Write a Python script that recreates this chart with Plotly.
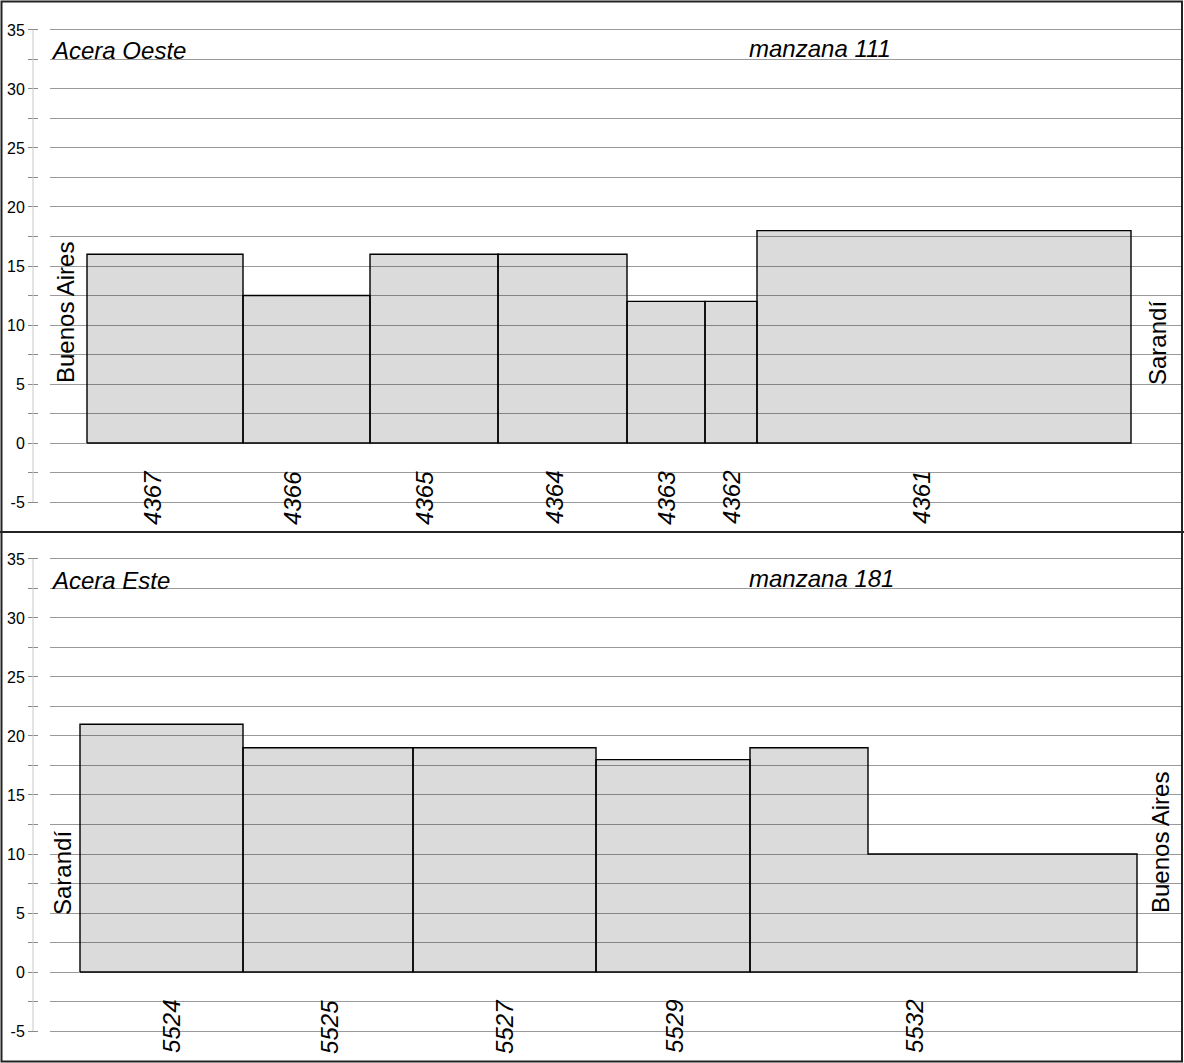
import plotly.graph_objects as go

# ---------------- data ----------------
top_lots = ["4367", "4366", "4365", "4364", "4363", "4362", "4361"]
top_widths = [[15.6], [12.7], [12.8], [12.9], [7.8], [5.2], [37.4]]
top_heights = [[16], [12.5], [16], [16], [12], [12], [18]]
top_start = 3.7
top_label_x = [10.3, 24.3, 37.5, 50.5, 61.7, 68.2, 87.2]

bot_lots = ["5524", "5525", "5527", "5529", "5532"]
bot_widths = [[16.3], [17.0], [18.3], [15.4], [11.8, 26.9]]
bot_heights = [[21], [19], [19], [18], [19, 10]]
bot_start = 3.0
bot_label_x = [12.2, 28.0, 45.5, 62.5, 86.5]

label_y = -4.65
y_tickvals = [-5, -2.5, 0, 2.5, 5, 7.5, 10, 12.5, 15, 17.5, 20, 22.5, 25, 27.5, 30, 32.5, 35]
y_ticktext = ["-5", "", "0", "", "5", "", "10", "", "15", "", "20", "", "25", "", "30", "", "35"]

W, H = 1184, 1063
FONT = "Liberation Sans, Arial, sans-serif"

def px_x(p):
    return p / W

def px_y(p):
    return (H - p) / H

fig = go.Figure()


def add_lots(start, widths, heights, xa, ya):
    x0 = start
    for ws, hs in zip(widths, heights):
        xs = [x0]
        ys = [0]
        cx = x0
        for w, h in zip(ws, hs):
            xs += [cx, cx + w]
            ys += [h, h]
            cx += w
        xs += [cx, x0]
        ys += [0, 0]
        fig.add_trace(go.Scatter(
            x=xs, y=ys, mode="lines", fill="toself",
            fillcolor="rgba(0,0,0,0.14)",
            line=dict(color="black", width=1.4),
            xaxis=xa, yaxis=ya, showlegend=False, hoverinfo="skip"))
        x0 = cx


add_lots(top_start, top_widths, top_heights, "x", "y")
add_lots(bot_start, bot_widths, bot_heights, "x2", "y2")

# tick-only axes need a trace to show
fig.add_trace(go.Scatter(x=[None], y=[None], xaxis="x", yaxis="y3", showlegend=False))
fig.add_trace(go.Scatter(x=[None], y=[None], xaxis="x2", yaxis="y4", showlegend=False))

top_dom = [px_y(532), px_y(2)]
bot_dom = [px_y(1061), px_y(533)]
top_rng = [-7.54, 37.37]
bot_rng = [-7.54, 37.2]
x_dom = [px_x(50), px_x(1181)]
x_rng = [0, 113.1]

grid = dict(showgrid=True, gridcolor="#9a9a9a", gridwidth=1, tick0=0, dtick=2.5,
            showticklabels=False, ticks="", zeroline=False, showline=False)
tickax = dict(anchor="free", position=px_x(38), side="left", showgrid=False,
              tickmode="array", tickvals=y_tickvals, ticktext=y_ticktext,
              ticks="outside", ticklen=10, tickcolor="#8a8a8a", tickwidth=1,
              tickfont=dict(family=FONT, size=16, color="black"),
              zeroline=False, showline=False)

fig.update_layout(
    width=W, height=H,
    margin=dict(l=0, r=0, t=0, b=0),
    paper_bgcolor="white", plot_bgcolor="rgba(0,0,0,0)",
    xaxis=dict(domain=x_dom, range=x_rng, visible=False, anchor="y"),
    xaxis2=dict(domain=x_dom, range=x_rng, visible=False, anchor="y2"),
    yaxis=dict(domain=top_dom, range=top_rng, anchor="x", **grid),
    yaxis2=dict(domain=bot_dom, range=bot_rng, anchor="x2", **grid),
    yaxis3=dict(overlaying="y", range=top_rng, **tickax),
    yaxis4=dict(overlaying="y2", range=bot_rng, **tickax),
    font=dict(family=FONT),
)

shapes = []
# light vertical axis lines
for ya in ["y", "y2"]:
    shapes.append(dict(type="line", xref="paper", yref=ya, x0=px_x(33), x1=px_x(33),
                       y0=-5, y1=35, line=dict(color="#c8c8c8", width=1)))
# frame and separator
shapes.append(dict(type="rect", xref="paper", yref="paper", x0=px_x(1.5), x1=px_x(1182),
                   y0=px_y(1061.5), y1=px_y(1.5), line=dict(color="#222", width=2)))
shapes.append(dict(type="line", xref="paper", yref="paper", x0=0, x1=1,
                   y0=px_y(532), y1=px_y(532), line=dict(color="#222", width=2)))
fig.update_layout(shapes=shapes)

ann = []
def text(x, y, s, size=24, italic=False, angle=0, xanchor="center", xref="paper", yref="paper"):
    ann.append(dict(x=x, y=y, xref=xref, yref=yref, text=s, showarrow=False,
                    textangle=angle, xanchor=xanchor, yanchor="middle",
                    font=dict(family=FONT, size=size, color="black",
                              style="italic" if italic else "normal")))

text(px_x(49), px_y(50), "Acera Oeste", italic=True, xanchor="left")
text(px_x(747), px_y(48), "manzana 111", italic=True, xanchor="left")
text(px_x(49), px_y(580), "Acera Este", italic=True, xanchor="left")
text(px_x(747), px_y(578), "manzana 181", italic=True, xanchor="left")

text(px_x(66), px_y(313), "Buenos Aires", angle=-90)
text(px_x(1157), px_y(343), "Sarandí", angle=-90)
text(px_x(62), px_y(873), "Sarandí", angle=-90)
text(px_x(1160), px_y(843), "Buenos Aires", angle=-90)

for lab, lx in zip(top_lots, top_label_x):
    text(lx, label_y, lab, italic=True, angle=-90, xref="x", yref="y")
for lab, lx in zip(bot_lots, bot_label_x):
    text(lx, label_y, lab, italic=True, angle=-90, xref="x2", yref="y2")

fig.update_layout(annotations=ann)

fig.write_html(
    "out.html",
    config={"displayModeBar": False},
    post_script="document.body.style.margin='0';document.body.style.padding='0';"
                "document.body.style.overflow='hidden';",
)
